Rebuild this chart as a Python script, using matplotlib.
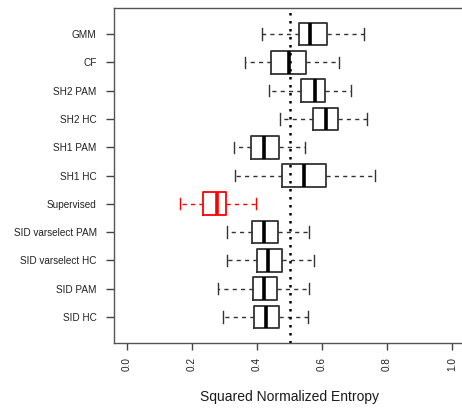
import matplotlib
matplotlib.use("Agg")
import matplotlib.pyplot as plt

plt.rcParams['font.family'] = ['Liberation Sans', 'DejaVu Sans']

# methods, listed bottom to top
methods = ['SID HC', 'SID PAM', 'SID varselect HC', 'SID varselect PAM',
           'Supervised', 'SH1 HC', 'SH1 PAM', 'SH2 HC', 'SH2 PAM', 'CF', 'GMM']
whis_lo = [0.294, 0.281, 0.309, 0.307, 0.163, 0.333, 0.330, 0.470, 0.436, 0.363, 0.414]
q1      = [0.392, 0.387, 0.400, 0.384, 0.235, 0.477, 0.382, 0.571, 0.536, 0.444, 0.530]
median  = [0.427, 0.420, 0.433, 0.420, 0.276, 0.544, 0.423, 0.613, 0.579, 0.498, 0.564]
q3      = [0.469, 0.461, 0.476, 0.464, 0.305, 0.611, 0.469, 0.649, 0.609, 0.552, 0.616]
whis_hi = [0.558, 0.559, 0.576, 0.559, 0.396, 0.762, 0.548, 0.737, 0.690, 0.651, 0.729]
ref_line = 0.5
xticks = [0.0, 0.2, 0.4, 0.6, 0.8, 1.0]

stats = []
for i, m in enumerate(methods):
    stats.append({'label': m, 'whislo': whis_lo[i], 'q1': q1[i], 'med': median[i],
                  'q3': q3[i], 'whishi': whis_hi[i], 'fliers': []})

fig = plt.figure(figsize=(4.62, 4.17), dpi=100)
ax = fig.add_axes([114 / 462, 1 - 343 / 417, (465 - 114) / 462, 335 / 417])

positions = list(range(1, len(methods) + 1))
bp = ax.bxp(stats, positions=positions, vert=False, widths=0.8, capwidths=0.4,
            showfliers=False, patch_artist=False,
            boxprops=dict(color='#333333', linewidth=1.3),
            medianprops=dict(color='black', linewidth=2.6),
            whiskerprops=dict(color='#333333', linewidth=1.0, linestyle=(0, (3, 3))),
            capprops=dict(color='#333333', linewidth=1.0))

# Supervised is drawn in red
k = methods.index('Supervised')
for part in [bp['boxes'][k], bp['medians'][k], bp['whiskers'][2 * k],
             bp['whiskers'][2 * k + 1], bp['caps'][2 * k], bp['caps'][2 * k + 1]]:
    part.set_color('red')

ax.axvline(ref_line, color='black', linewidth=1.8, linestyle=(0, (1, 2.2)))

ax.set_xlim(-0.04, 1.04)
ax.set_ylim(0.08, 11.92)
ax.set_xticks(xticks)
ax.set_xticklabels(['%.1f' % t for t in xticks], rotation=90, fontsize=7.2, color='#222222')
ax.set_yticks(positions)
ax.set_yticklabels(methods, fontsize=7.2, color='#222222')
ax.tick_params(axis='x', length=5, width=1, color='#444444', pad=5)
ax.tick_params(axis='y', length=6, width=1, color='#444444', pad=6.5)
ax.set_xlabel('Squared Normalized Entropy', fontsize=10, color='#1a1a1a', labelpad=14)

for s in ax.spines.values():
    s.set_color('#555555')
    s.set_linewidth(1.0)

fig.savefig('out.png', dpi=100)
